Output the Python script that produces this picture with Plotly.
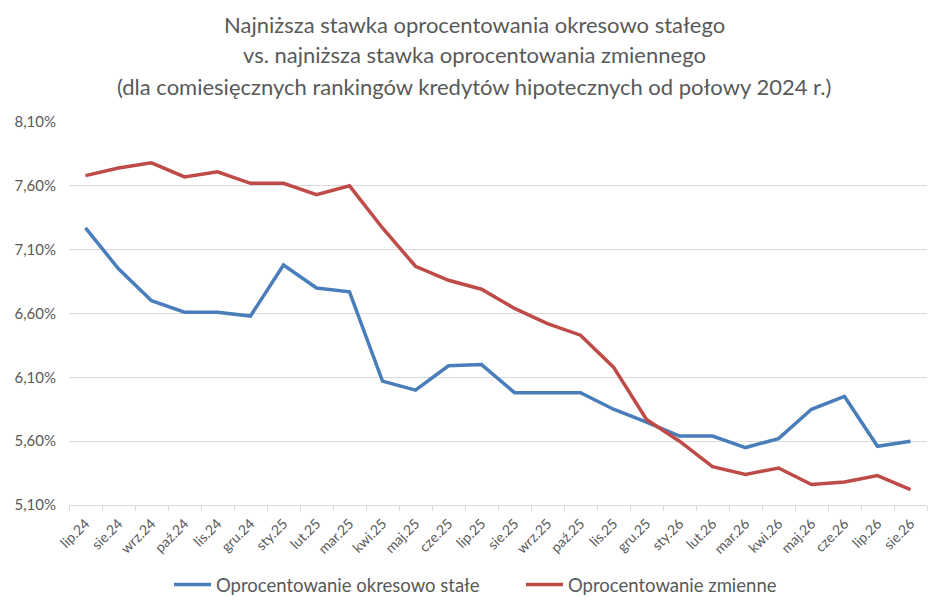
import plotly.graph_objects as go

categories = ["lip.24", "sie.24", "wrz.24", "paź.24", "lis.24", "gru.24",
              "sty.25", "lut.25", "mar.25", "kwi.25", "maj.25", "cze.25",
              "lip.25", "sie.25", "wrz.25", "paź.25", "lis.25", "gru.25",
              "sty.26", "lut.26", "mar.26", "kwi.26", "maj.26", "cze.26",
              "lip.26", "sie.26"]

fixed_rate = [7.27, 6.95, 6.70, 6.61, 6.61, 6.58,
              6.98, 6.80, 6.77, 6.07, 6.00, 6.19,
              6.20, 5.98, 5.98, 5.98, 5.85, 5.75,
              5.64, 5.64, 5.55, 5.62, 5.85, 5.95,
              5.56, 5.60]

variable_rate = [7.68, 7.74, 7.78, 7.67, 7.71, 7.62,
                 7.62, 7.53, 7.60, 7.27, 6.97, 6.86,
                 6.79, 6.64, 6.52, 6.43, 6.18, 5.77,
                 5.60, 5.40, 5.34, 5.39, 5.26, 5.28,
                 5.33, 5.22]

y_ticks = [5.10, 5.60, 6.10, 6.60, 7.10, 7.60, 8.10]
y_ticktext = [f"{v:.2f}".replace(".", ",") + "%" for v in y_ticks]

title_lines = [
    "Najniższa stawka oprocentowania okresowo stałego",
    "vs. najniższa stawka oprocentowania zmiennego",
    "(dla comiesięcznych rankingów kredytów hipotecznych od połowy 2024 r.)",
]

FONT = "Lato"
GRAY = "#595959"

# the page body has an 8px margin, so the figure is drawn 8px smaller
W, Hfig = 940, 608
plot_left, plot_right = 61, 919
plot_top, plot_bottom = 114, 497
PW = plot_right - plot_left
PH = plot_bottom - plot_top

fig = go.Figure()
fig.add_trace(go.Scatter(x=categories, y=fixed_rate, mode="lines",
                         name="Oprocentowanie okresowo stałe",
                         line=dict(color="#4a7ebb", width=3.5)))
fig.add_trace(go.Scatter(x=categories, y=variable_rate, mode="lines",
                         name="Oprocentowanie zmienne",
                         line=dict(color="#be4b48", width=3.5)))

line_centers = [16, 46, 78]
for txt, yc in zip(title_lines, line_centers):
    fig.add_annotation(text=txt, x=(466 - plot_left) / PW, xref="paper",
                       y=(plot_bottom - yc) / PH, yref="paper",
                       xanchor="center", yanchor="middle", showarrow=False,
                       font=dict(family=FONT, size=22, color=GRAY))

fig.update_layout(
    width=W, height=Hfig,
    margin=dict(l=plot_left, r=W - plot_right, t=plot_top, b=Hfig - plot_bottom),
    paper_bgcolor="white", plot_bgcolor="white",
    font=dict(family=FONT, color=GRAY),
    showlegend=True,
    legend=dict(orientation="h", x=(166 - 5) / W, xanchor="left", xref="container",
                y=(Hfig - 577) / Hfig, yanchor="middle", yref="container",
                font=dict(family=FONT, size=18.5, color=GRAY),
                itemwidth=37, entrywidth=300),
    xaxis=dict(type="category", range=[-0.5, len(categories) - 0.5],
               tickson="boundaries", ticks="outside", ticklen=5,
               tickcolor="#d9d9d9", showline=True, linecolor="#d9d9d9",
               linewidth=1, showgrid=False, tickangle=-45, automargin=False,
               ticklabelstandoff=4,
               tickfont=dict(family=FONT, size=14, color=GRAY)),
    yaxis=dict(range=[5.10, 8.10], tickvals=y_ticks, ticktext=y_ticktext,
               showgrid=True, gridcolor="#d9d9d9", gridwidth=1,
               zeroline=False, showline=False, ticks="", automargin=False,
               ticklabelstandoff=12,
               tickfont=dict(family=FONT, size=15, color=GRAY)),
)

fig.write_html("out.html")
